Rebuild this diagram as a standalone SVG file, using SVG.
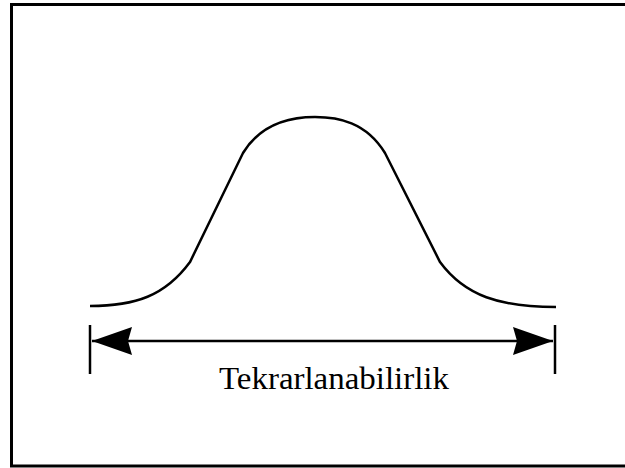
<svg xmlns="http://www.w3.org/2000/svg" width="625" height="468" viewBox="0 0 625 468">
<defs>
<style>
.ln{fill:none;stroke:#000;stroke-width:2.5}
.txt{font-family:"Liberation Serif","Times New Roman",serif;font-size:31px;fill:#000}
</style>
<marker id="ah" viewBox="0 0 40 28" refX="40" refY="14" markerWidth="40" markerHeight="28" markerUnits="userSpaceOnUse" orient="auto-start-reverse">
<path d="M0,0 L40,14 L0,28 L4,14 Z" fill="#000"/>
</marker>
</defs>
<rect x="11.5" y="4.5" width="630" height="461.5" fill="#fff" stroke="#000" stroke-width="3"/>
<g id="curve">
<path class="ln" d="M90,306 C135,306 165,296 190,262 L243,153 C262,122 292,117 315,117 C338,117 366,122 385,153 L440,262 C465,296 500,307 556,307"/>
</g>
<g id="connectors">
<line class="ln" x1="90" y1="325" x2="90" y2="374"/>
<line class="ln" x1="555" y1="325" x2="555" y2="374"/>
<line class="ln" x1="92" y1="341" x2="553" y2="341" marker-start="url(#ah)" marker-end="url(#ah)"/>
</g>
<g id="label">
<text class="txt" x="334" y="389" text-anchor="middle" textLength="230" lengthAdjust="spacingAndGlyphs">Tekrarlanabilirlik</text>
</g>
</svg>
